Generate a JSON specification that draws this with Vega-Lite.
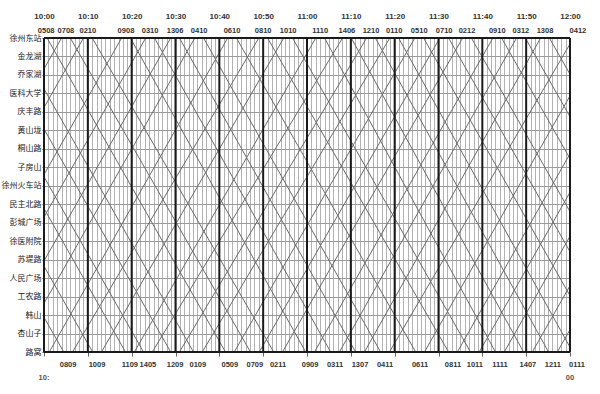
{
  "$schema": "https://vega.github.io/schema/vega-lite/v6.json",
  "width": 526,
  "height": 314,
  "autosize": {"type": "none"},
  "padding": {"left": 44, "top": 38, "right": 30, "bottom": 42},
  "background": "white",
  "config": {"view": {"stroke": null}, "font": "Liberation Sans"},
  "datasets": {
    "trips": [
      {"train":"01","t":-8.6,"s":"徐州东站"},{"train":"01","t":-6.6,"s":"徐州东站"},{"train":"01","t":34.1,"s":"路窝"},{"train":"01","t":36.1,"s":"路窝"},{"train":"01","t":78.9,"s":"徐州东站"},{"train":"01","t":80.9,"s":"徐州东站"},{"train":"01","t":120.6,"s":"路窝"},{"train":"01","t":122.6,"s":"路窝"},
      {"train":"02","t":-33.7,"s":"路窝"},{"train":"02","t":-31.7,"s":"路窝"},{"train":"02","t":9.0,"s":"徐州东站"},{"train":"02","t":11.0,"s":"徐州东站"},{"train":"02","t":52.4,"s":"路窝"},{"train":"02","t":54.4,"s":"路窝"},{"train":"02","t":95.5,"s":"徐州东站"},{"train":"02","t":97.5,"s":"徐州东站"},{"train":"02","t":138.2,"s":"路窝"},
      {"train":"03","t":-19.5,"s":"路窝"},{"train":"03","t":-17.5,"s":"路窝"},{"train":"03","t":23.2,"s":"徐州东站"},{"train":"03","t":25.2,"s":"徐州东站"},{"train":"03","t":65.4,"s":"路窝"},{"train":"03","t":67.4,"s":"路窝"},{"train":"03","t":107.8,"s":"徐州东站"},{"train":"03","t":109.8,"s":"徐州东站"},{"train":"03","t":150.5,"s":"路窝"},
      {"train":"04","t":-8.3,"s":"路窝"},{"train":"04","t":-6.3,"s":"路窝"},{"train":"04","t":34.4,"s":"徐州东站"},{"train":"04","t":36.4,"s":"徐州东站"},{"train":"04","t":76.8,"s":"路窝"},{"train":"04","t":78.8,"s":"路窝"},{"train":"04","t":120.8,"s":"徐州东站"},{"train":"04","t":122.8,"s":"徐州东站"},
      {"train":"05","t":-44.0,"s":"路窝"},{"train":"05","t":-42.0,"s":"路窝"},{"train":"05","t":-1.3,"s":"徐州东站"},{"train":"05","t":0.7,"s":"徐州东站"},{"train":"05","t":41.4,"s":"路窝"},{"train":"05","t":43.4,"s":"路窝"},{"train":"05","t":84.6,"s":"徐州东站"},{"train":"05","t":86.6,"s":"徐州东站"},{"train":"05","t":127.3,"s":"路窝"},
      {"train":"06","t":-43.5,"s":"徐州东站"},{"train":"06","t":-41.5,"s":"徐州东站"},{"train":"06","t":-0.8,"s":"路窝"},{"train":"06","t":1.2,"s":"路窝"},{"train":"06","t":41.9,"s":"徐州东站"},{"train":"06","t":43.9,"s":"徐州东站"},{"train":"06","t":84.8,"s":"路窝"},{"train":"06","t":86.8,"s":"路窝"},{"train":"06","t":127.5,"s":"徐州东站"},
      {"train":"07","t":-38.7,"s":"路窝"},{"train":"07","t":-36.7,"s":"路窝"},{"train":"07","t":4.0,"s":"徐州东站"},{"train":"07","t":6.0,"s":"徐州东站"},{"train":"07","t":47.1,"s":"路窝"},{"train":"07","t":49.1,"s":"路窝"},{"train":"07","t":90.3,"s":"徐州东站"},{"train":"07","t":92.3,"s":"徐州东站"},{"train":"07","t":133.0,"s":"路窝"},
      {"train":"08","t":-38.2,"s":"徐州东站"},{"train":"08","t":-36.2,"s":"徐州东站"},{"train":"08","t":4.5,"s":"路窝"},{"train":"08","t":6.5,"s":"路窝"},{"train":"08","t":49.0,"s":"徐州东站"},{"train":"08","t":51.0,"s":"徐州东站"},{"train":"08","t":92.3,"s":"路窝"},{"train":"08","t":94.3,"s":"路窝"},{"train":"08","t":135.0,"s":"徐州东站"},
      {"train":"09","t":-25.0,"s":"路窝"},{"train":"09","t":-23.0,"s":"路窝"},{"train":"09","t":17.7,"s":"徐州东站"},{"train":"09","t":19.7,"s":"徐州东站"},{"train":"09","t":59.7,"s":"路窝"},{"train":"09","t":61.7,"s":"路窝"},{"train":"09","t":102.4,"s":"徐州东站"},{"train":"09","t":104.4,"s":"徐州东站"},{"train":"09","t":145.0,"s":"路窝"},
      {"train":"10","t":-31.6,"s":"徐州东站"},{"train":"10","t":-29.6,"s":"徐州东站"},{"train":"10","t":11.1,"s":"路窝"},{"train":"10","t":13.1,"s":"路窝"},{"train":"10","t":54.7,"s":"徐州东站"},{"train":"10","t":56.7,"s":"徐州东站"},{"train":"10","t":97.3,"s":"路窝"},{"train":"10","t":99.3,"s":"路窝"},{"train":"10","t":140.0,"s":"徐州东站"},
      {"train":"11","t":-24.1,"s":"徐州东站"},{"train":"11","t":-22.1,"s":"徐州东站"},{"train":"11","t":18.6,"s":"路窝"},{"train":"11","t":20.6,"s":"路窝"},{"train":"11","t":62.0,"s":"徐州东站"},{"train":"11","t":64.0,"s":"徐州东站"},{"train":"11","t":103.0,"s":"路窝"},{"train":"11","t":105.0,"s":"路窝"},{"train":"11","t":145.7,"s":"徐州东站"},
      {"train":"12","t":-13.8,"s":"徐州东站"},{"train":"12","t":-11.8,"s":"徐州东站"},{"train":"12","t":28.9,"s":"路窝"},{"train":"12","t":30.9,"s":"路窝"},{"train":"12","t":73.6,"s":"徐州东站"},{"train":"12","t":75.6,"s":"徐州东站"},{"train":"12","t":115.1,"s":"路窝"},{"train":"12","t":117.1,"s":"路窝"},{"train":"12","t":157.8,"s":"徐州东站"},
      {"train":"13","t":-13.8,"s":"路窝"},{"train":"13","t":-11.8,"s":"路窝"},{"train":"13","t":28.9,"s":"徐州东站"},{"train":"13","t":30.9,"s":"徐州东站"},{"train":"13","t":71.1,"s":"路窝"},{"train":"13","t":73.1,"s":"路窝"},{"train":"13","t":113.3,"s":"徐州东站"},{"train":"13","t":115.3,"s":"徐州东站"},{"train":"13","t":156.0,"s":"路窝"},
      {"train":"14","t":-20.0,"s":"徐州东站"},{"train":"14","t":-18.0,"s":"徐州东站"},{"train":"14","t":22.7,"s":"路窝"},{"train":"14","t":24.7,"s":"路窝"},{"train":"14","t":68.1,"s":"徐州东站"},{"train":"14","t":70.1,"s":"徐州东站"},{"train":"14","t":109.4,"s":"路窝"},{"train":"14","t":111.4,"s":"路窝"},{"train":"14","t":152.1,"s":"徐州东站"}
    ],
    "major": [{"t":0},{"t":10},{"t":20},{"t":30},{"t":40},{"t":50},{"t":60},{"t":70},{"t":80},{"t":90},{"t":100},{"t":110},{"t":120}],
    "ends": [{"s":"徐州东站"},{"s":"路窝"}],
    "toplabels": [
      {"lab":"0508","t":0.5,"s":"徐州东站"},{"lab":"0708","t":5.0,"s":"徐州东站"},{"lab":"0210","t":10.0,"s":"徐州东站"},{"lab":"0908","t":18.7,"s":"徐州东站"},{"lab":"0310","t":24.2,"s":"徐州东站"},{"lab":"1306","t":29.9,"s":"徐州东站"},{"lab":"0410","t":35.4,"s":"徐州东站"},{"lab":"0610","t":42.9,"s":"徐州东站"},{"lab":"0810","t":50.0,"s":"徐州东站"},{"lab":"1010","t":55.7,"s":"徐州东站"},{"lab":"1110","t":63.0,"s":"徐州东站"},{"lab":"1406","t":69.1,"s":"徐州东站"},{"lab":"1210","t":74.6,"s":"徐州东站"},{"lab":"0110","t":79.9,"s":"徐州东站"},{"lab":"0510","t":85.6,"s":"徐州东站"},{"lab":"0710","t":91.3,"s":"徐州东站"},{"lab":"0212","t":96.5,"s":"徐州东站"},{"lab":"0910","t":103.4,"s":"徐州东站"},{"lab":"0312","t":108.8,"s":"徐州东站"},{"lab":"1308","t":114.3,"s":"徐州东站"},{"lab":"0412","t":121.8,"s":"徐州东站"}
    ],
    "bottomlabels": [
      {"lab":"0809","t":5.5,"s":"路窝"},{"lab":"1009","t":12.1,"s":"路窝"},{"lab":"1109","t":19.6,"s":"路窝"},{"lab":"1405","t":23.7,"s":"路窝"},{"lab":"1209","t":29.9,"s":"路窝"},{"lab":"0109","t":35.1,"s":"路窝"},{"lab":"0509","t":42.4,"s":"路窝"},{"lab":"0709","t":48.1,"s":"路窝"},{"lab":"0211","t":53.4,"s":"路窝"},{"lab":"0909","t":60.7,"s":"路窝"},{"lab":"0311","t":66.4,"s":"路窝"},{"lab":"1307","t":72.1,"s":"路窝"},{"lab":"0411","t":77.8,"s":"路窝"},{"lab":"0611","t":85.8,"s":"路窝"},{"lab":"0811","t":93.3,"s":"路窝"},{"lab":"1011","t":98.3,"s":"路窝"},{"lab":"1111","t":104.0,"s":"路窝"},{"lab":"1407","t":110.4,"s":"路窝"},{"lab":"1211","t":116.1,"s":"路窝"},{"lab":"0111","t":121.6,"s":"路窝"}
    ],
    "endtext": [{"lab":"10:","t":0,"s":"路窝","a":"right"},{"lab":"00","t":120,"s":"路窝","a":"left"}]
  },
  "resolve": {"axis": {"x": "independent", "y": "independent"}},
  "layer": [
    {
      "data": {"name": "trips"},
      "mark": {"type": "line", "clip": true, "color": "#6a6a6a", "strokeWidth": 1},
      "encoding": {
        "x": {"field": "t", "type": "quantitative",
          "scale": {"domain": [0, 120], "nice": false, "zero": false},
          "axis": {"orient": "top", "title": null,
            "values": [0,1,2,3,4,5,6,7,8,9,10,11,12,13,14,15,16,17,18,19,20,21,22,23,24,25,26,27,28,29,30,31,32,33,34,35,36,37,38,39,40,41,42,43,44,45,46,47,48,49,50,51,52,53,54,55,56,57,58,59,60,61,62,63,64,65,66,67,68,69,70,71,72,73,74,75,76,77,78,79,80,81,82,83,84,85,86,87,88,89,90,91,92,93,94,95,96,97,98,99,100,101,102,103,104,105,106,107,108,109,110,111,112,113,114,115,116,117,118,119,120],
            "grid": true, "gridColor": "#b2b2b2", "gridWidth": 1,
            "ticks": false, "domain": false,
            "labelExpr": "datum.value % 10 == 0 ? (10 + floor(datum.value / 60)) + ':' + (datum.value % 60 < 10 ? '0' : '') + (datum.value % 60) : ''",
            "labelOverlap": false, "labelBound": false, "labelFlush": false,
            "labelFont": "Liberation Sans", "labelFontSize": 8, "labelFontWeight": "bold",
            "labelColor": "#333", "labelPadding": 18}},
        "y": {"field": "s", "type": "ordinal",
          "scale": {"type": "point", "padding": 0,
            "domain": ["徐州东站","金龙湖","乔家湖","医科大学","庆丰路","黄山垅","桐山路","子房山","徐州火车站","民主北路","彭城广场","徐医附院","苏堤路","人民广场","工农路","韩山","杏山子","路窝"]},
          "axis": {"orient": "left", "title": null, "grid": true, "gridColor": "#9a9a9a", "gridWidth": 1,
            "tickSize": 2, "tickColor": "#555", "domain": true, "domainColor": "#555",
            "labelFont": "Noto Sans CJK SC", "labelFontSize": 8, "labelColor": "#222", "labelPadding": 1}},
        "detail": {"field": "train"},
        "order": {"field": "t", "type": "quantitative"}
      }
    },
    {
      "data": {"name": "major"},
      "mark": {"type": "rule", "color": "#1a1a1a", "strokeWidth": 2},
      "encoding": {
        "x": {"field": "t", "type": "quantitative",
          "axis": {"orient": "bottom", "title": null, "values": [0,10,20,30,40,50,60,70,80,90,100,110,120],
            "labels": false, "grid": false, "domain": false, "ticks": true, "tickSize": 4, "tickColor": "#666"}}
      }
    },
    {
      "data": {"name": "ends"},
      "mark": {"type": "rule", "color": "#1a1a1a", "strokeWidth": 2},
      "encoding": {
        "y": {"field": "s", "type": "ordinal", "axis": null}
      }
    },
    {
      "data": {"name": "toplabels"},
      "mark": {"type": "text", "dy": -7, "baseline": "middle", "fontSize": 7.5, "fontWeight": "bold", "color": "#333", "font": "Liberation Sans"},
      "encoding": {
        "x": {"field": "t", "type": "quantitative", "axis": null},
        "y": {"field": "s", "type": "ordinal", "axis": null},
        "text": {"field": "lab"}
      }
    },
    {
      "data": {"name": "bottomlabels"},
      "mark": {"type": "text", "dy": 13, "baseline": "middle", "fontSize": 7.5, "fontWeight": "bold", "color": "#333", "font": "Liberation Sans"},
      "encoding": {
        "x": {"field": "t", "type": "quantitative", "axis": null},
        "y": {"field": "s", "type": "ordinal", "axis": null},
        "text": {"field": "lab"}
      }
    },
    {
      "data": {"name": "endtext"},
      "mark": {"type": "text", "dy": 26, "baseline": "middle", "fontSize": 7.5, "fontWeight": "bold", "color": "#555", "font": "Liberation Sans"},
      "encoding": {
        "x": {"field": "t", "type": "quantitative", "axis": null},
        "y": {"field": "s", "type": "ordinal", "axis": null},
        "text": {"field": "lab"},
        "align": {"field": "a", "type": "nominal", "scale": null}
      }
    }
  ]
}
